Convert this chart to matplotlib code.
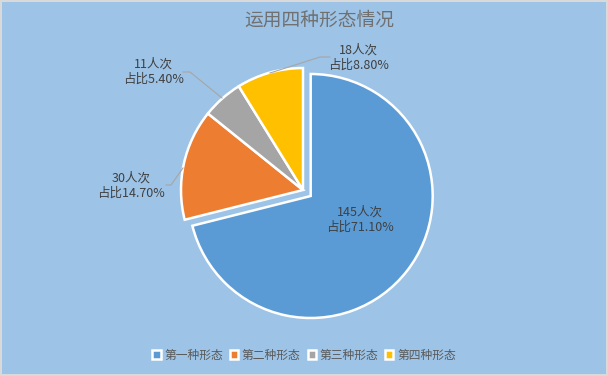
import matplotlib.pyplot as plt

plt.rcParams['font.family'] = ['Noto Sans CJK SC', 'DejaVu Sans']

categories = ['第一种形态', '第二种形态', '第三种形态', '第四种形态']
counts = [145, 30, 11, 18]
percent_labels = ['71.10%', '14.70%', '5.40%', '8.80%']
colors = ['#5B9BD5', '#ED7D31', '#A5A5A5', '#FFC000']

W, H = 608, 376
cx, cy, R = 303, 186, 122  # pie centre (px from left / bottom) and radius

fig = plt.figure(figsize=(W / 100, H / 100), dpi=100, facecolor='#9DC3E6',
                 edgecolor='#D9D9D9', linewidth=1.5)
ax = fig.add_axes([0, 0, 1, 1])
ax.set_facecolor('none')

wedges, _ = ax.pie(counts, colors=colors, startangle=90, counterclock=False,
                   explode=[0.08, 0, 0, 0], radius=1,
                   wedgeprops=dict(edgecolor='white', linewidth=1.8))

# map pixel positions to data units
ax.set_xlim(-cx / R, (W - cx) / R)
ax.set_ylim(-cy / R, (H - cy) / R)
ax.set_aspect('auto')
ax.axis('off')


def px(x, y):
    return ((x - cx) / R, ((H - y) - cy) / R)


label_pos = [(360, 220), (131, 186), (153, 72), (358, 58)]
leaders = [None,
           [(166, 185), (171, 185), (183, 168)],
           [(183, 72), (190, 72), (222, 98)],
           [(330, 57), (320, 57), (270, 73)]]

for i in range(len(counts)):
    txt = f'{counts[i]}人次\n占比{percent_labels[i]}'
    ax.text(*px(*label_pos[i]), txt, ha='center', va='center', fontsize=9,
            color='#404040', linespacing=1.25)
    if leaders[i]:
        xs, ys = zip(*[px(x, y) for x, y in leaders[i]])
        ax.plot(xs, ys, color='#A6A6A6', linewidth=0.8)

fig.text(319 / W, 1 - 20 / H, '运用四种形态情况', ha='center', va='center',
         fontsize=13.5, color='#707070')

leg = fig.legend(wedges, categories, loc='center', bbox_to_anchor=(0.5, 1 - 355 / H),
                 ncol=4, frameon=False, fontsize=8.5, handlelength=0.7,
                 handleheight=0.7, handletextpad=0.3, columnspacing=0.6)
for t in leg.get_texts():
    t.set_color('#595959')

fig.savefig('out.png', dpi=100, facecolor=fig.get_facecolor(),
            edgecolor=fig.get_edgecolor())
